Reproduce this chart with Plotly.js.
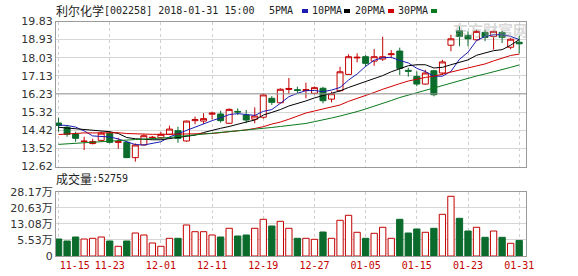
<!DOCTYPE html>
<html><head><meta charset="utf-8">
<script src="https://cdn.plot.ly/plotly-3.0.1.min.js"></script>
<style>html,body{margin:0;padding:0;background:#fff}#chart{width:578px;height:276px}</style>
</head><body><div id="chart"></div>
<script>
const dates = ['11-15','11-16','11-17','11-20','11-21','11-22','11-23','11-24','11-27','11-28','11-29','11-30','12-01','12-04','12-05','12-06','12-07','12-08','12-11','12-12','12-13','12-14','12-15','12-18','12-19','12-20','12-21','12-22','12-25','12-26','12-27','12-28','12-29','01-02','01-03','01-04','01-05','01-08','01-09','01-10','01-11','01-12','01-15','01-16','01-17','01-18','01-19','01-22','01-23','01-24','01-25','01-26','01-29','01-30','01-31'];
const open  = [14.78,14.57,14.24,13.86,13.76,13.92,14.27,13.82,13.82,13.06,13.69,14.05,14.05,14.22,14.40,13.89,14.90,14.88,15.22,15.23,14.77,15.36,15.18,14.97,15.07,16.01,15.79,16.45,16.44,16.40,16.26,16.51,15.97,16.39,17.20,18.02,18.08,17.86,17.96,18.18,18.36,17.40,17.10,16.72,17.38,17.27,18.65,19.37,19.14,18.92,19.29,19.09,19.29,18.55,18.80];
const high  = [15.05,14.65,14.35,14.10,14.00,14.35,14.38,14.05,13.86,13.77,14.22,14.14,14.34,14.65,14.60,14.90,15.10,15.27,15.35,15.39,15.51,15.51,15.43,15.56,16.25,16.12,16.51,17.02,16.59,16.79,16.60,16.58,16.34,17.58,18.20,18.25,18.16,18.46,19.07,18.41,18.53,17.53,17.35,17.43,17.43,17.93,19.17,19.59,19.34,19.42,19.42,19.37,19.36,19.00,19.12];
const low   = [14.35,14.10,13.85,13.44,13.72,13.85,13.77,13.50,13.04,12.86,13.66,13.98,14.00,14.18,13.80,13.85,14.72,14.73,14.97,14.80,14.73,15.18,14.77,14.77,15.00,15.68,15.76,16.22,16.26,16.01,16.20,15.76,15.81,16.34,17.17,17.80,17.58,17.63,17.87,18.00,17.17,17.09,16.61,16.69,16.11,17.18,18.35,18.60,18.60,18.87,18.85,18.43,18.76,18.45,18.25];
const close = [14.66,14.22,14.02,13.88,13.86,14.28,13.82,13.85,13.06,13.69,14.15,14.07,14.22,14.48,14.02,14.88,14.95,15.00,15.27,14.90,15.46,15.33,14.93,15.13,16.18,15.81,16.46,16.50,16.40,16.44,16.54,15.89,16.24,17.33,18.08,18.05,17.75,18.08,18.08,18.22,17.50,17.36,16.72,17.27,16.19,17.82,18.97,19.09,18.97,19.34,19.04,19.34,19.04,18.95,18.72];
const ma5  = [14.68,14.66,14.58,14.39,14.14,14.10,14.09,13.99,13.84,13.71,13.69,13.76,13.85,14.09,14.25,14.40,14.60,14.76,14.90,15.04,15.20,15.25,15.22,15.16,15.36,15.45,15.76,16.09,16.26,16.39,16.40,16.34,16.42,16.55,16.92,17.22,17.60,17.90,18.03,18.05,17.89,17.77,17.50,17.34,17.11,17.11,17.35,17.95,18.30,18.88,19.09,19.17,19.17,19.09,18.93];
const ma10 = [14.57,14.53,14.51,14.46,14.41,14.39,14.35,14.26,14.06,14.00,13.96,13.95,13.95,14.00,14.06,14.12,14.18,14.31,14.43,14.52,14.61,14.73,14.83,14.93,15.18,15.31,15.45,15.63,15.75,15.88,16.03,16.15,16.28,16.38,16.55,16.70,16.85,17.01,17.14,17.33,17.50,17.63,17.68,17.68,17.52,17.55,17.68,17.80,17.92,18.15,18.26,18.38,18.43,18.65,18.93];
const ma20 = [14.21,14.24,14.26,14.29,14.29,14.30,14.30,14.30,14.26,14.24,14.22,14.22,14.22,14.22,14.24,14.24,14.24,14.25,14.26,14.30,14.34,14.39,14.44,14.51,14.60,14.73,14.83,14.97,15.13,15.28,15.38,15.48,15.58,15.68,15.86,16.00,16.14,16.30,16.46,16.62,16.74,16.87,16.97,17.05,17.11,17.22,17.30,17.42,17.52,17.62,17.72,17.87,18.02,18.14,18.21];
const ma30 = [13.72,13.75,13.77,13.80,13.84,13.86,13.89,13.91,13.94,13.96,13.98,14.00,14.02,14.06,14.11,14.15,14.19,14.22,14.26,14.30,14.34,14.37,14.41,14.46,14.52,14.56,14.61,14.66,14.71,14.76,14.85,14.93,15.03,15.13,15.23,15.35,15.48,15.61,15.75,15.90,16.05,16.17,16.30,16.41,16.52,16.65,16.77,16.90,17.02,17.12,17.22,17.32,17.43,17.55,17.67];
// volume in 万 (10k lots)
const vol = [5.96,5.02,6.90,5.96,6.29,6.90,5.02,2.53,5.02,8.78,7.84,4.08,2.53,6.29,6.29,12.54,9.39,9.39,7.84,6.90,10.99,7.37,7.84,10.99,15.21,12.07,14.27,10.99,6.29,6.29,5.82,9.25,6.29,14.74,17.09,9.11,6.29,8.64,11.46,6.29,15.21,8.78,10.66,9.11,10.99,17.56,26.01,15.68,9.72,11.46,6.76,9.72,6.76,3.94,5.28];
const tickLabels = ['11-15','11-23','12-01','12-11','12-19','12-27','01-05','01-15','01-23','01-31'];
const priceTicks = [12.62,13.52,14.42,15.32,16.23,17.13,18.03,18.93,19.83];
const volTicks = [-2.02,5.53,13.08,20.63,28.17];
const volTickText = ['0','5.53万','13.08万','20.63万','28.17万'];
const stockName = '利尔化学';
const headerText = '[002258] 2018-01-31 15:00';
const volLabel = '成交量';
const volValue = ':52759';
const maNames = ['5PMA','10PMA','20PMA','30PMA'];

const RED = '#c40000', GREEN = '#0b6b2c';
const maColors = ['#1c1cb0','#000000','#d00000','#0a7a1e'];
const W = 578, H = 276;
const px = v => v / W, py = v => 1 - v / H;
const idx = dates.map((d, i) => i);
const up = idx.map(i => close[i] >= open[i]);
const volBase = volTicks[0];

const traces = [
  {type:'candlestick', x: idx, open, high, low, close, xaxis:'x', yaxis:'y',
   increasing:{line:{color:RED, width:1}, fillcolor:'#ffffff'},
   decreasing:{line:{color:GREEN, width:1}, fillcolor:GREEN},
   whiskerwidth:0, hoverinfo:'skip'},
];
[ma5, ma10, ma20, ma30].forEach((m, k) => traces.push({
  type:'scatter', mode:'lines', x: idx, y: m, xaxis:'x', yaxis:'y',
  line:{color: maColors[k], width:1}, hoverinfo:'skip'}));
traces.push({type:'bar', x: idx, y: vol.map(v => v - volBase), base: volBase, xaxis:'x2', yaxis:'y2',
  width:0.74,
  marker:{color: up.map(u => u ? '#ffffff' : GREEN), line:{color: up.map(u => u ? RED : GREEN), width:1}},
  hoverinfo:'skip'});

const xDom = [px(56), px(526)];
const xr = [-0.3, 54.8];
const gridIdx = tickLabels.map(t => dates.indexOf(t));
const labelPos = gridIdx.map((g, k) => k === 0 ? g + 1.9 : g);

const axisCommon = {showline:true, mirror:true, linecolor:'#9a9a9a', linewidth:1, zeroline:false, fixedrange:true};
const layout = {
  width: W, height: H, margin:{l:0, r:0, t:0, b:0},
  paper_bgcolor:'#fff', plot_bgcolor:'#fff', showlegend:false, hovermode:false,
  font:{family:'DejaVu Sans', size:11, color:'#333'},
  boxgap:0.3, boxgroupgap:0,
  xaxis: Object.assign({}, axisCommon, {domain:xDom, range:xr, anchor:'y', showticklabels:false, ticks:'',
    rangeslider:{visible:false}, tickmode:'array', tickvals: gridIdx, showgrid:true,
    gridcolor:'#cfcfcf', griddash:'3px,3px', gridwidth:1}),
  yaxis: Object.assign({}, axisCommon, {domain:[py(166.5), py(21.5)], range:[priceTicks[0], priceTicks[priceTicks.length-1]],
    anchor:'x', tickmode:'array', tickvals: priceTicks, ticktext: priceTicks.map(v => v.toFixed(2)),
    showgrid:true, gridcolor:'#d6d6d6', ticks:'', tickfont:{family:'DejaVu Sans', size:11, color:'#333'}}),
  xaxis2: Object.assign({}, axisCommon, {domain:xDom, range:xr, anchor:'y2', ticks:'',
    tickmode:'array', tickvals: labelPos, ticktext: tickLabels, showgrid:false,
    tickfont:{family:'DejaVu Sans Mono', size:10, color:RED},
    minor:{tickmode:'array', tickvals: gridIdx, showgrid:true, gridcolor:'#cfcfcf', griddash:'3px,3px', gridwidth:1, ticks:''}}),
  yaxis2: Object.assign({}, axisCommon, {domain:[py(256), py(191.7)], range:[volTicks[0], volTicks[volTicks.length-1]],
    anchor:'x2', tickmode:'array', tickvals: volTicks, ticktext: volTickText,
    showgrid:true, gridcolor:'#d6d6d6', ticks:'', tickfont:{family:'DejaVu Sans, Noto Sans CJK SC', size:11, color:'#333'}}),
  shapes: [
    {type:'line', xref:'paper', yref:'y', x0:xDom[0], x1:xDom[1], y0:priceTicks[4], y1:priceTicks[4], line:{color:'#9a9a9a', width:1}},
  ],
  annotations: []
};
const ann = (text, x, y, size, family, color) => ({text, x:px(x), y:py(y), xref:'paper', yref:'paper',
  xanchor:'left', yanchor:'middle', showarrow:false, borderpad:0, font:{size, family, color: color || '#222'}});
layout.annotations.push(ann(stockName, 55, 10, 12, 'Noto Sans CJK SC'));
layout.annotations.push(ann(headerText, 103, 10.5, 10, 'DejaVu Sans Mono'));
const legX = [268, 311, 354, 397];
const sqX = [302, 344, 388, 431];
maNames.forEach((n, k) => {
  layout.annotations.push(ann(n, legX[k], 10.5, 10, 'DejaVu Sans Mono'));
  layout.shapes.push({type:'rect', xref:'paper', yref:'paper', x0:px(sqX[k]), x1:px(sqX[k]+6), y0:py(13), y1:py(9),
    fillcolor: maColors[k], line:{width:0}});
});
layout.annotations.push(ann(volLabel, 55, 178, 12, 'Noto Sans CJK SC'));
layout.annotations.push(ann(volValue, 91, 178.5, 10, 'DejaVu Sans Mono'));
layout.annotations.push(Object.assign(ann('东方财富网', 452, 29, 15, 'Noto Sans CJK SC', 'rgba(170,170,170,0.45)'), {font:{size:15, family:'Noto Sans CJK SC', color:'rgba(170,170,170,0.45)', weight:700}}));

Plotly.newPlot('chart', traces, layout, {staticPlot:true, displayModeBar:false});
</script></body></html>
